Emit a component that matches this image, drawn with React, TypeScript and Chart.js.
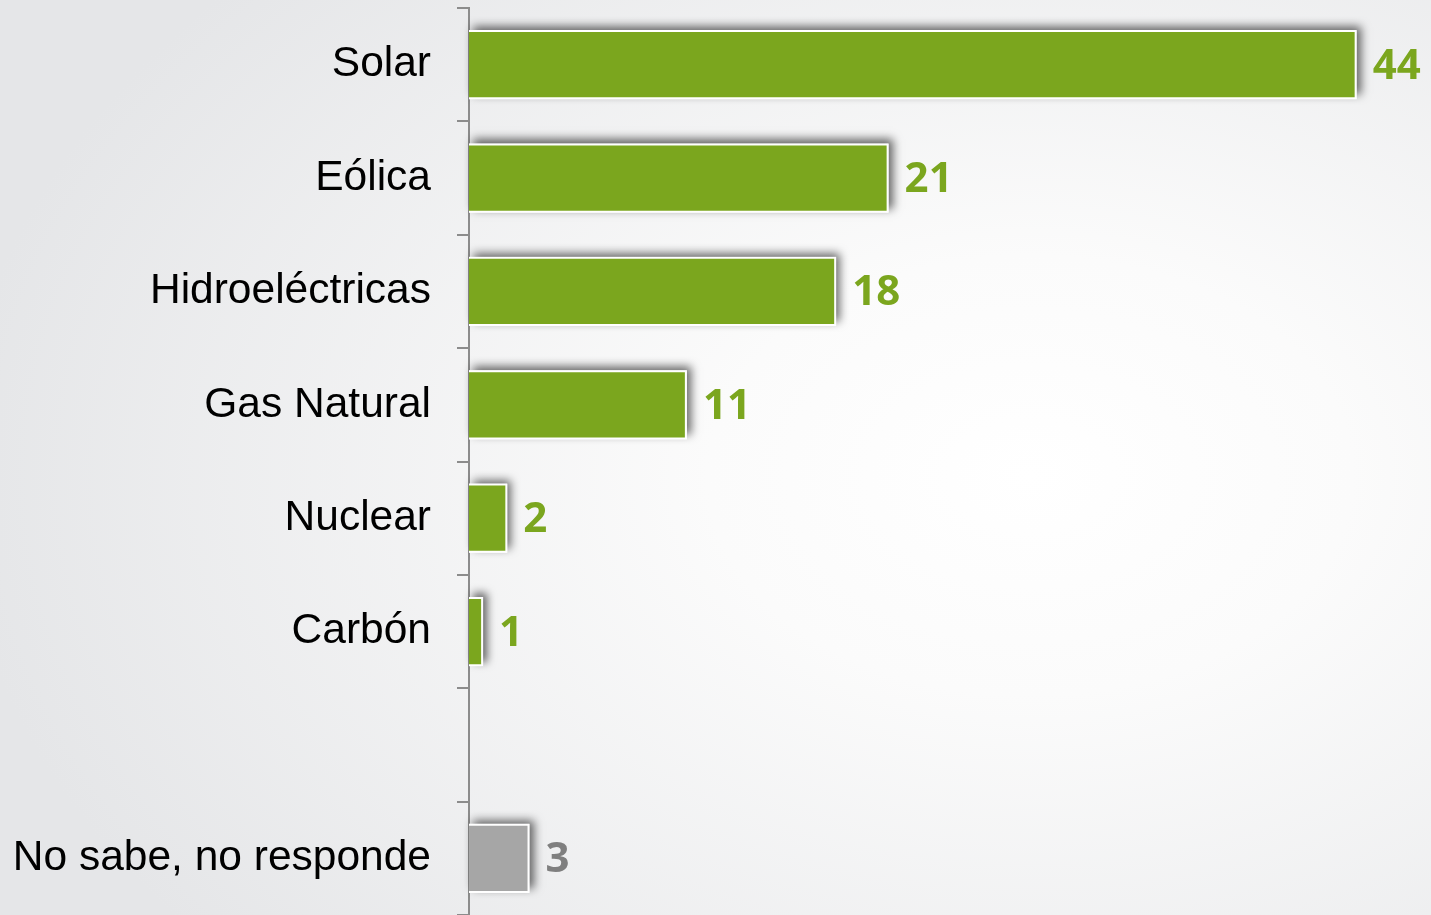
import React, { useEffect, useRef } from "react";
import { Chart, registerables } from "chart.js";

Chart.register(...registerables);

const categories = ["Solar", "Eólica", "Hidroeléctricas", "Gas Natural", "Nuclear", "Carbón", "", "No sabe, no responde"];
const values: (number | null)[] = [44, 20.8, 18.2, 10.8, 1.9, 0.7, null, 3];
const valueLabels = ["44", "21", "18", "11", "2", "1", "", "3"];
const barColors = ["#7BA61E", "#7BA61E", "#7BA61E", "#7BA61E", "#7BA61E", "#7BA61E", "#7BA61E", "#A6A6A6"];
const labelColors = ["#7BA61E", "#7BA61E", "#7BA61E", "#7BA61E", "#7BA61E", "#7BA61E", "#7BA61E", "#7F7F7F"];

const shadowPlugin = {
  id: "barShadow",
  beforeDatasetDraw(chart: any, args: any) {
    const meta = args.meta;
    const ctx = chart.ctx;
    ctx.save();
    ctx.shadowColor = "rgba(0,0,0,0.6)";
    ctx.shadowBlur = 9;
    ctx.shadowOffsetX = 4;
    ctx.shadowOffsetY = -4;
    ctx.fillStyle = "#ffffff";
    meta.data.forEach((bar: any, i: number) => {
      if (values[i] == null) return;
      const { x, y, base, height } = bar.getProps(["x", "y", "base", "height"], true);
      ctx.fillRect(base, y - height / 2, x - base, height);
    });
    ctx.restore();
  },
  afterDatasetsDraw(chart: any) {
    const meta = chart.getDatasetMeta(0);
    const ctx = chart.ctx;
    ctx.save();
    ctx.font = "bold 42px 'Open Sans'";
    ctx.textAlign = "left";
    ctx.textBaseline = "middle";
    meta.data.forEach((bar: any, i: number) => {
      if (!valueLabels[i]) return;
      const { x, y } = bar.getProps(["x", "y"], true);
      ctx.fillStyle = labelColors[i];
      ctx.fillText(valueLabels[i], x + 16, y + 2);
    });
    ctx.restore();
  },
};

export default function App() {
  const ref = useRef<HTMLCanvasElement>(null);
  useEffect(() => {
    if (!ref.current) return;
    const chart = new Chart(ref.current, {
      type: "bar",
      data: {
        labels: categories,
        datasets: [
          {
            data: values as any,
            backgroundColor: barColors,
            borderColor: "#ffffff",
            borderWidth: 2,
            borderSkipped: "start",
            barPercentage: 0.61,
            categoryPercentage: 1,
          },
        ],
      },
      options: {
        indexAxis: "y",
        animation: false,
        responsive: false,
        maintainAspectRatio: false,
        layout: { padding: { top: 8, bottom: 0, left: 0, right: 34 } },
        plugins: { legend: { display: false }, tooltip: { enabled: false } },
        scales: {
          x: { display: false, min: 0, max: 46 },
          y: {
            afterFit(scale: any) {
              scale.width = 469;
              scale.paddingTop = 0;
              scale.paddingBottom = 0;
            },
            offset: true,
            grid: {
              display: true,
              offset: true,
              drawOnChartArea: false,
              drawTicks: true,
              tickLength: 12,
              color: "#8C8C8C",
              lineWidth: 2,
            },
            border: { display: true, color: "#8C8C8C", width: 2 },
            ticks: {
              autoSkip: false,
              padding: 26,
              color: "#000000",
              font: { family: "'Liberation Sans', Arial", size: 42.5 },
            },
          },
        },
      },
      plugins: [shadowPlugin],
    });
    return () => chart.destroy();
  }, []);

  return (
    <div
      style={{
        position: "fixed",
        left: 0,
        top: 0,
        width: 1431,
        height: 915,
        background:
          "radial-gradient(ellipse 75% 80% at 72% 52%, #ffffff 0%, #fbfbfb 30%, #e5e6e8 100%)",
      }}
    >
      <canvas ref={ref} width={1431} height={915} style={{ display: "block" }} />
    </div>
  );
}
